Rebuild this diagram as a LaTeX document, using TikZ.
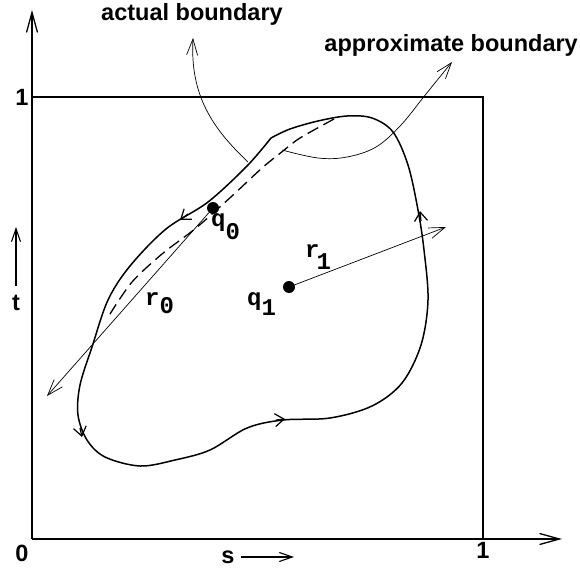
\documentclass[tikz,border=0pt]{standalone}
\usepackage{fontspec}
\setmainfont{Liberation Sans}
\setmonofont{Liberation Mono}
\usetikzlibrary{arrows.meta}
\begin{document}
\begin{tikzpicture}[x=1pt,y=-1pt,
  frame/.style={line width=1.3pt},
  bnd/.style={line width=1.5pt},
  axisarr/.style={line width=1.3pt,-{Straight Barb[length=20pt,width=11pt]}},
  smallarr/.style={line width=1.1pt,-{Straight Barb[length=13pt,width=9pt]}},
  thinarr/.style={line width=0.7pt,-{Straight Barb[length=16pt,width=11pt]}},
  midarr/.style={line width=1.2pt,-{Straight Barb[length=9pt,width=13pt]}},
  lbl/.style={font=\fontsize{23.5}{23.5}\selectfont\bfseries, inner sep=0pt},
  ttl/.style={font=\fontsize{24}{24}\selectfont\ttfamily\bfseries, inner sep=0pt, anchor=base west},
  dot/.style={circle, fill=black, inner sep=0pt, minimum size=12pt}]
\useasboundingbox (0,0) rectangle (580,567);

% axes and unit square
\coordinate (O) at (32,539);
\coordinate (xend) at (562,539);
\coordinate (yend) at (32,10);
\coordinate (B1) at (483,539);
\coordinate (C1) at (483,97);
\coordinate (A1) at (32,97);
\draw[axisarr] (O) -- (xend);
\draw[axisarr] (O) -- (yend);
\draw[frame] (A1) -- (C1) -- (B1);

\node[lbl] (zero) at (22,553) {0};
\node[lbl] (onex) at (483,550) {1};
\node[lbl] (oney) at (22,97) {1};
\node[lbl] (s) at (228,557) {s};
\coordinate (sa) at (241,557);
\coordinate (sb) at (294,557);
\draw[smallarr] (sa) -- (sb);
\node[lbl] (t) at (16,303) {t};
\coordinate (ta) at (16,286);
\coordinate (tb) at (16,227);
\draw[smallarr] (ta) -- (tb);

% actual boundary (solid closed curve with a kink)
\draw[bnd] plot[smooth, tension=0.55] coordinates {
  (271,138) (247,166) (208,202) (166,229) (130,266) (108,300) (92,347)
  (80,385) (78,415) (87,440) (105,457) (140,466) (175,460) (210,450)
  (247,428) (283,420) (330,418) (372,406) (402,383) (421,345) (428,300)
  (424,250) (418,210) (408,165) (393,132) (372,118) (347,116) (318,121)
  (290,129) (271,138)};

% approximate boundary (dashed)
\draw[line width=1.3pt, dash pattern=on 12pt off 6pt] plot[smooth, tension=0.5] coordinates {
  (334,119) (300,138) (283,151) (262,168) (232,196) (196,228) (162,254) (132,282) (110,314)};

% direction marks on the boundary
\draw[midarr] (188,214) -- (180,220);
\draw[midarr] (80,428) -- (82,437);
\draw[midarr] (276,420) -- (285,419);
\draw[midarr] (421,221) -- (420,211);

% points and radii
\node[dot] (q0) at (213,208) {};
\node[dot] (q1) at (289,287) {};
\coordinate (r0end) at (47,396);
\coordinate (r1end) at (446,227);
\draw[thinarr] (q0) -- (r0end);
\draw[thinarr] (q1) -- (r1end);

\node[ttl] (q0l) at (211,226) {q\raisebox{-13pt}{0}};
\node[ttl] (r0l) at (145,305) {r\raisebox{-8pt}{0}};
\node[ttl] (q1l) at (247,305) {q\raisebox{-10pt}{1}};
\node[ttl] (r1l) at (305,257) {r\kern-3pt\raisebox{-12pt}{1}};

% annotation labels and arrows
\node[lbl] (actual) at (192,14) {actual boundary};
\node[lbl, anchor=east] (approx) at (578,45) {approximate boundary};
\coordinate (aa) at (248,162);
\coordinate (ab) at (193,38);
\draw[thinarr] (aa) .. controls (212,128) and (190,95) .. (ab);
\coordinate (pa) at (282,150);
\coordinate (pb) at (452,62);
\draw[thinarr] plot[smooth, tension=0.6] coordinates {(pa) (318,158) (347,157) (376,147) (401,125) (426,94) (pb)};
\end{tikzpicture}
\end{document}
